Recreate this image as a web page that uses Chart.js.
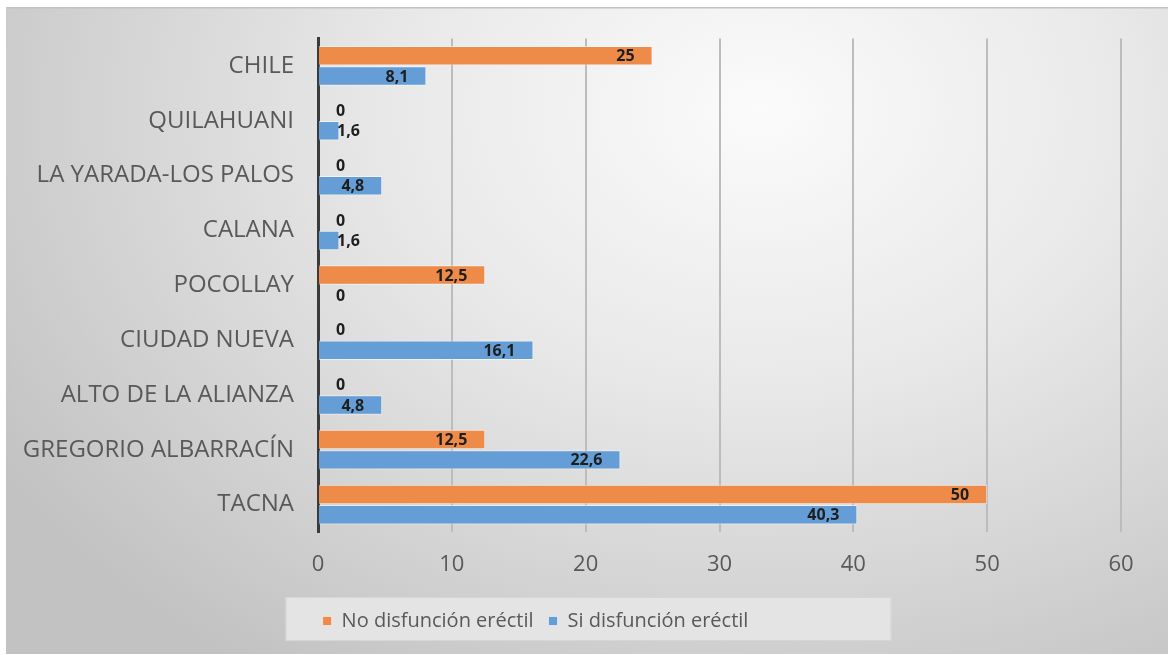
<!DOCTYPE html>
<html>
<head>
<meta charset="utf-8">
<script src="https://cdn.jsdelivr.net/npm/chart.js@4/dist/chart.umd.min.js"></script>
<style>
  html, body { margin: 0; padding: 0; background: #ffffff; }
  #wrap { width: 1168px; height: 655px; }
</style>
</head>
<body>
<div id="wrap"><canvas id="c" width="1168" height="655"></canvas></div>
<script>
const categories = ["CHILE", "QUILAHUANI", "LA YARADA-LOS PALOS", "CALANA", "POCOLLAY", "CIUDAD NUEVA", "ALTO DE LA ALIANZA", "GREGORIO ALBARRACÍN", "TACNA"];
const noDisfuncion = [25, 0, 0, 0, 12.5, 0, 0, 12.5, 50];
const siDisfuncion = [8.1, 1.6, 4.8, 1.6, 0, 16.1, 4.8, 22.6, 40.3];
const seriesNames = ["No disfunción eréctil", "Si disfunción eréctil"];
const xTicks = [0, 10, 20, 30, 40, 50, 60];

const FONT = "'Open Sans', 'Noto Sans', sans-serif";

const bgPlugin = {
  id: 'bg',
  afterLayout(chart) {
    const lg = chart.legend;
    if (lg) { lg.left -= 28; lg.right -= 28; }
  },
  beforeDraw(chart) {
    const ctx = chart.ctx;
    const W = chart.width, H = chart.height;
    ctx.save();
    ctx.fillStyle = '#ffffff';
    ctx.fillRect(0, 0, W, H);
    ctx.save();
    ctx.beginPath();
    ctx.rect(6, 7, W - 6, H - 8);
    ctx.clip();
    ctx.translate(760, 110);
    ctx.scale(1, 0.75);
    const g = ctx.createRadialGradient(0, 0, 0, 0, 0, 900);
    g.addColorStop(0, '#fbfbfb');
    g.addColorStop(0.4, '#e9e9e9');
    g.addColorStop(1, '#c2c2c2');
    ctx.fillStyle = g;
    ctx.fillRect(-900, -300, 2000, 1200);
    ctx.restore();
    ctx.fillStyle = '#c2c2c2';
    ctx.fillRect(6, 7, W - 6, 1.5);
    // legend box
    const lg = chart.legend;
    if (lg && lg.legendHitBoxes && lg.legendHitBoxes.length) {
      const hb = lg.legendHitBoxes;
      const first = hb[0], last = hb[hb.length - 1];
      const left = first.left - 37;
      const right = last.left + last.width + 143;
      const top = lg.top + 1, bottom = lg.bottom;
      ctx.fillStyle = '#e4e4e4';
      ctx.fillRect(left, top, right - left, bottom - top);
      ctx.strokeStyle = 'rgba(212,212,212,0.9)';
      ctx.lineWidth = 1;
      ctx.strokeRect(left + 0.5, top + 0.5, right - left - 1, bottom - top - 1);
    }
    ctx.restore();
  }
};

const labelPlugin = {
  id: 'barLabels',
  afterDatasetsDraw(chart) {
    const ctx = chart.ctx;
    ctx.save();
    ctx.font = "bold 16px " + FONT;
    ctx.fillStyle = '#1e1e1e';
    ctx.textAlign = 'left';
    ctx.textBaseline = 'middle';
    chart.data.datasets.forEach((ds, i) => {
      const meta = chart.getDatasetMeta(i);
      meta.data.forEach((bar, j) => {
        const v = ds.data[j];
        const txt = String(v).replace('.', ',');
        const w = ctx.measureText(txt).width;
        const left = Math.max(bar.x - 18 - w, bar.base + 18);
        ctx.fillText(txt, left, bar.y + 1);
      });
    });
    ctx.restore();
  }
};

new Chart(document.getElementById('c'), {
  type: 'bar',
  data: {
    labels: categories,
    datasets: [
      {
        label: seriesNames[0],
        data: noDisfuncion,
        backgroundColor: '#EE8B48',
        borderColor: 'rgba(255,255,255,0.55)',
        borderWidth: 1,
        categoryPercentage: 0.74,
        barPercentage: 0.96
      },
      {
        label: seriesNames[1],
        data: siDisfuncion,
        backgroundColor: '#659ED7',
        borderColor: 'rgba(255,255,255,0.55)',
        borderWidth: 1,
        categoryPercentage: 0.74,
        barPercentage: 0.96
      }
    ]
  },
  options: {
    indexAxis: 'y',
    responsive: false,
    animation: false,
    devicePixelRatio: 1,
    layout: { padding: { left: 6, right: 47, top: 38, bottom: 14 } },
    plugins: {
      tooltip: { enabled: false },
      legend: {
        position: 'bottom',
        labels: {
          font: { family: FONT, size: 20 },
          color: '#595959',
          boxWidth: 9,
          boxHeight: 9,
          padding: 15
        }
      }
    },
    scales: {
      x: {
        min: 0,
        max: 60,
        afterFit(scale) { scale.height = 64; },
        afterBuildTicks(scale) { scale.ticks = xTicks.map(v => ({ value: v })); },
        ticks: {
          font: { family: FONT, size: 22 },
          color: '#595959',
          padding: 20
        },
        grid: {
          drawTicks: false,
          color: (c) => c.tick && c.tick.value === 0 ? 'rgba(0,0,0,0)' : '#bcbcbc',
          lineWidth: 2
        },
        border: { display: false }
      },
      y: {
        afterFit(scale) { scale.width = 312; },
        ticks: {
          font: { family: FONT, size: 24 },
          color: '#595959',
          padding: 24
        },
        grid: { display: false, drawTicks: false },
        border: { display: true, color: '#3b3b3b', width: 3 }
      }
    }
  },
  plugins: [bgPlugin, labelPlugin]
});
</script>
</body>
</html>
